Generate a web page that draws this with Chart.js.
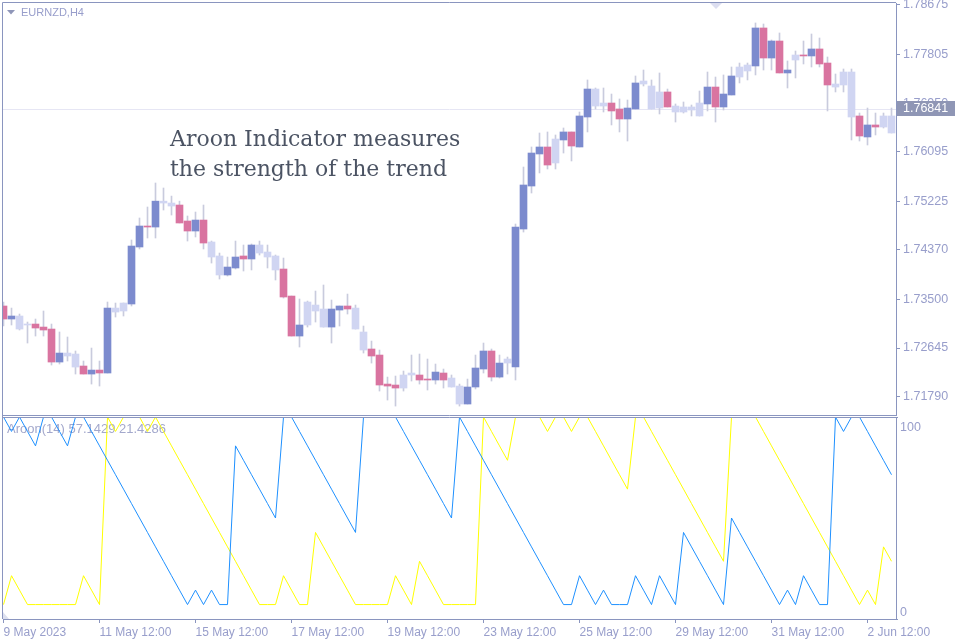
<!DOCTYPE html>
<html>
<head>
<meta charset="utf-8">
<script src="https://cdn.jsdelivr.net/npm/chart.js@4.4.0/dist/chart.umd.min.js"></script>
<style>
  html, body { margin: 0; padding: 0; background: #fff; overflow: hidden; }
  #wrap { position: relative; width: 960px; height: 640px; }
  canvas { position: absolute; left: 0; }
  #chartPrice { top: 0; }
  #chartAroon { top: 416px; }
</style>
</head>
<body>
<div id="wrap">
  <canvas id="chartPrice" width="960" height="416"></canvas>
  <canvas id="chartAroon" width="960" height="224"></canvas>
</div>
<script>
// EURNZD H4, one value per bar, bar 0 = 9 May 2023 12:00
var opens = [
  1.73384,1.73155,1.73208,1.73067,1.73067,1.73014,1.72979,1.72399,1.72557,1.72540,
  1.72329,1.72188,1.72258,1.72206,1.73348,1.73296,1.73419,1.74421,1.74790,1.74772,
  1.75227,1.75194,1.75159,1.74878,1.74702,1.74895,1.74509,1.74263,1.73929,1.74052,
  1.74263,1.74210,1.74456,1.74333,1.74263,1.74034,1.73559,1.72856,1.73050,1.73401,
  1.73331,1.73014,1.73313,1.73384,1.73348,1.72927,1.72628,1.72522,1.72012,1.71995,
  1.71942,1.72171,1.72171,1.72100,1.72083,1.72206,1.72118,1.71977,1.71661,1.71960,
  1.72276,1.72593,1.72135,1.72381,1.72311,1.74737,1.75493,1.76056,1.76179,1.75898,
  1.76302,1.76443,1.76179,1.76706,1.77198,1.76899,1.76952,1.76847,1.76671,1.76847,
  1.77339,1.77251,1.76864,1.77146,1.76899,1.76794,1.76882,1.76724,1.76935,1.77233,
  1.76882,1.77093,1.77409,1.77515,1.77603,1.78271,1.77743,1.78042,1.77480,1.77708,
  1.77796,1.77779,1.77902,1.77655,1.77286,1.77269,1.77497,1.76724,1.76355,1.76566,
  1.76530,1.76724
];
var highs = [
  1.73454,1.73348,1.73243,1.73102,1.73155,1.73296,1.73067,1.72927,1.72839,1.72593,
  1.72417,1.72645,1.72417,1.73454,1.73436,1.73436,1.74544,1.74931,1.75124,1.75546,
  1.75458,1.75316,1.75227,1.74966,1.75036,1.75159,1.74526,1.74315,1.74245,1.74526,
  1.74456,1.74474,1.74526,1.74456,1.74280,1.74227,1.73559,1.73507,1.73471,1.73647,
  1.73753,1.73489,1.73384,1.73594,1.73401,1.73032,1.72768,1.72610,1.72135,1.72153,
  1.72241,1.72522,1.72540,1.72452,1.72364,1.72276,1.72171,1.72012,1.72100,1.72522,
  1.72733,1.72628,1.72522,1.72487,1.74825,1.75827,1.76179,1.76425,1.76443,1.76390,
  1.76513,1.76443,1.76794,1.77357,1.77216,1.77216,1.77110,1.77023,1.77005,1.77427,
  1.77532,1.77357,1.77480,1.77198,1.76935,1.76970,1.76917,1.77163,1.77497,1.77409,
  1.77445,1.77585,1.77655,1.77655,1.78359,1.78341,1.78060,1.78183,1.77691,1.77866,
  1.78042,1.78165,1.78095,1.77761,1.77462,1.77550,1.77550,1.76776,1.76864,1.76776,
  1.76776,1.76864
];
var lows = [
  1.73032,1.73050,1.72962,1.72733,1.72856,1.72856,1.72346,1.72364,1.72417,1.72188,
  1.72188,1.72012,1.71977,1.72206,1.73190,1.73208,1.73384,1.74386,1.74579,1.74579,
  1.75071,1.74983,1.74843,1.74526,1.74597,1.74386,1.74139,1.73858,1.73911,1.74034,
  1.73999,1.74017,1.74280,1.74052,1.73841,1.73524,1.72856,1.72663,1.73014,1.73102,
  1.73014,1.72733,1.73032,1.73243,1.72979,1.72557,1.72381,1.71889,1.71731,1.71625,
  1.71889,1.72065,1.72012,1.71907,1.72012,1.71942,1.71960,1.71625,1.71661,1.71925,
  1.72206,1.72065,1.72118,1.72188,1.72083,1.74684,1.75370,1.75722,1.75792,1.75792,
  1.76073,1.75933,1.76179,1.76443,1.76847,1.76794,1.76566,1.76443,1.76284,1.76847,
  1.77251,1.76847,1.76759,1.76882,1.76618,1.76776,1.76724,1.76724,1.76812,1.76618,
  1.76829,1.77093,1.77304,1.77357,1.77445,1.77532,1.77532,1.77480,1.77216,1.77392,
  1.77638,1.77585,1.77585,1.76812,1.77146,1.77146,1.76302,1.76284,1.76214,1.76390,
  1.76513,1.76425
];
var closes = [
  1.73155,1.73208,1.72979,1.73050,1.72997,1.72962,1.72399,1.72557,1.72505,1.72311,
  1.72188,1.72258,1.72206,1.73348,1.73278,1.73436,1.74438,1.74790,1.74772,1.75227,
  1.75194,1.75141,1.74843,1.74702,1.74895,1.74491,1.74245,1.73929,1.74069,1.74245,
  1.74210,1.74456,1.74315,1.74245,1.74017,1.73542,1.72856,1.73050,1.73454,1.73296,
  1.73014,1.73331,1.73384,1.73331,1.72979,1.72610,1.72505,1.71995,1.71977,1.71942,
  1.72171,1.72206,1.72083,1.72083,1.72223,1.72083,1.71960,1.71661,1.71960,1.72294,
  1.72593,1.72135,1.72381,1.72452,1.74772,1.75511,1.76073,1.76179,1.75862,1.76319,
  1.76443,1.76196,1.76724,1.77198,1.76899,1.76952,1.76812,1.76671,1.76864,1.77304,
  1.77286,1.76847,1.77146,1.76882,1.76794,1.76882,1.76829,1.76952,1.77233,1.76882,
  1.77110,1.77427,1.77585,1.77620,1.78271,1.77743,1.78042,1.77480,1.77532,1.77796,
  1.77779,1.77902,1.77638,1.77269,1.77233,1.77497,1.76706,1.76372,1.76566,1.76530,
  1.76724,1.76425
];
// candle colour as seen on the chart: B blue, P pink, L light
var tones = ('PBLLPPPBLL' + 'PBPBLLBBPB' + 'LLPPBPLLBB' + 'PBLLLPPBLL' +
             'LBBPLLPPPP' + 'LLPPBPLLBB' + 'BPBLBBBBPL' + 'BPBBLLPPBB' +
             'LLLPLLLLBP' + 'BBLLBPBPBL' + 'PBPPLLLPBP' + 'LL').split('');

// Aroon(14)
var aroonUp = [
  7.14,21.43,14.29,7.14,7.14,7.14,7.14,7.14,7.14,7.14,
  21.43,14.29,7.14,100,92.86,100,100,100,92.86,100,
  92.86,85.71,78.57,71.43,64.29,57.14,50,42.86,35.71,28.57,
  21.43,14.29,7.14,7.14,7.14,21.43,14.29,7.14,7.14,42.86,
  35.71,28.57,21.43,14.29,7.14,7.14,7.14,7.14,7.14,21.43,
  14.29,7.14,28.57,21.43,14.29,7.14,7.14,7.14,7.14,7.14,
  100,92.86,85.71,78.57,100,100,100,100,92.86,100,
  100,92.86,100,100,92.86,85.71,78.57,71.43,64.29,100,
  100,92.86,85.71,78.57,71.43,64.29,57.14,50,42.86,35.71,
  28.57,100,100,100,100,92.86,85.71,78.57,71.43,64.29,
  57.14,50,42.86,35.71,28.57,21.43,14.29,7.14,14.29,7.14,
  35.71,28.57
];
var aroonDown = [
  100,92.86,100,92.86,85.71,100,100,92.86,85.71,100,
  100,92.86,85.71,78.57,71.43,64.29,57.14,50,42.86,35.71,
  28.57,21.43,14.29,7.14,14.29,7.14,14.29,7.14,7.14,85.71,
  78.57,71.43,64.29,57.14,50,100,100,92.86,85.71,78.57,
  71.43,64.29,57.14,50,42.86,100,100,100,100,100,
  92.86,85.71,78.57,71.43,64.29,57.14,50,100,92.86,85.71,
  78.57,71.43,64.29,57.14,50,42.86,35.71,28.57,21.43,14.29,
  7.14,7.14,21.43,14.29,7.14,14.29,7.14,7.14,7.14,21.43,
  14.29,7.14,21.43,14.29,7.14,42.86,35.71,28.57,21.43,14.29,
  7.14,50,42.86,35.71,28.57,21.43,14.29,7.14,14.29,7.14,
  21.43,14.29,7.14,7.14,100,92.86,100,100,92.86,85.71,
  78.57,71.43
];

var priceTicks = [1.71790, 1.72645, 1.73500, 1.74370, 1.75225, 1.76095, 1.76950, 1.77805, 1.78675];
var aroonTicks = [0, 100];
var timeLabels = ['9 May 2023', '11 May 12:00', '15 May 12:00', '17 May 12:00', '19 May 12:00',
                  '23 May 12:00', '25 May 12:00', '29 May 12:00', '31 May 12:00', '2 Jun 12:00'];
var timeLabelBars = [0, 12, 24, 36, 48, 60, 72, 84, 96, 108];
var currentPrice = 1.76841;
var symbolTitle = 'EURNZD,H4';
var aroonTitle = 'Aroon(14) 57.1429 21.4286';
var noteLines = ['Aroon Indicator measures', 'the strength of the trend'];

// look
var frameColor = '#8a95bf';
var labelColor = '#989ecb';
var wickColor = '#c9cbdd';
var toneColor = { B: '#7c8bce', P: '#d974a0', L: '#d0d5f2' };
var axisFont = { family: '"Liberation Sans", Arial, sans-serif', size: 12.5 };

// 8 px per bar, bar centres on whole pixels
var xMin = -0.0625, xMax = 111.5625;

var bodies = [], wicks = [], upPts = [], downPts = [];
for (var i = 0; i < opens.length; i++) {
  bodies.push({ x: i, y: [opens[i], closes[i]] });
  wicks.push({ x: i, y: [lows[i], highs[i]] });
  upPts.push({ x: i, y: aroonUp[i] });
  downPts.push({ x: i, y: aroonDown[i] });
}

function noPad(s) { s.paddingTop = 0; s.paddingBottom = 0; s.paddingLeft = 0; s.paddingRight = 0; }

var pricePlugin = {
  id: 'pricePanel',
  beforeDatasetsDraw: function (chart) {
    var ctx = chart.ctx, a = chart.chartArea;
    var y = Math.round(chart.scales.y.getPixelForValue(currentPrice)) + 0.5;
    ctx.save();
    ctx.strokeStyle = '#e6e6f4';
    ctx.lineWidth = 1;
    ctx.beginPath();
    ctx.moveTo(a.left, y); ctx.lineTo(a.right, y);
    ctx.stroke();
    ctx.restore();
  },
  afterDraw: function (chart) {
    var ctx = chart.ctx, a = chart.chartArea;
    ctx.save();
    // frame
    ctx.strokeStyle = frameColor;
    ctx.lineWidth = 1;
    ctx.beginPath();
    ctx.moveTo(2.5, 416); ctx.lineTo(2.5, 2.5); ctx.lineTo(a.right, 2.5);
    ctx.moveTo(2.5, 415.5); ctx.lineTo(a.right, 415.5);
    ctx.stroke();
    // symbol
    ctx.fillStyle = '#8f96b8';
    ctx.beginPath();
    ctx.moveTo(7, 10); ctx.lineTo(15, 10); ctx.lineTo(11, 14.5); ctx.closePath();
    ctx.fill();
    ctx.fillStyle = labelColor;
    ctx.font = '11px "Liberation Sans", Arial, sans-serif';
    ctx.textBaseline = 'middle';
    ctx.fillText(symbolTitle, 21, 13);
    // shift marker
    ctx.fillStyle = '#dcdef0';
    ctx.beginPath();
    ctx.moveTo(710, 3); ctx.lineTo(722, 3); ctx.lineTo(716, 9); ctx.closePath();
    ctx.fill();
    // current price box
    var y = Math.round(chart.scales.y.getPixelForValue(currentPrice));
    ctx.fillStyle = '#8f96b5';
    ctx.fillRect(a.right + 1, y - 8, 58, 15);
    ctx.fillStyle = '#ffffff';
    ctx.font = '12.5px "Liberation Sans", Arial, sans-serif';
    ctx.fillText(currentPrice.toFixed(5), a.right + 7, y);
    // note
    ctx.fillStyle = '#4b5363';
    ctx.font = '22px "DejaVu Serif", serif';
    ctx.textBaseline = 'alphabetic';
    ctx.fillText(noteLines[0], 170, 146);
    ctx.fillText(noteLines[1], 170, 176);
    ctx.restore();
  }
};

new Chart(document.getElementById('chartPrice'), {
  type: 'bar',
  data: {
    datasets: [{
      data: bodies,
      backgroundColor: function (c) { return toneColor[tones[c.dataIndex]]; },
      borderWidth: 0,
      barThickness: 7,
      minBarLength: 1,
      grouped: false,
      order: 1
    }, {
      data: wicks,
      backgroundColor: wickColor,
      borderWidth: 0,
      barThickness: 1,
      grouped: false,
      order: 2
    }]
  },
  options: {
    responsive: false,
    animation: false,
    devicePixelRatio: 1,
    layout: { padding: { left: 3, top: 3, right: 0, bottom: 1 } },
    plugins: { legend: { display: false }, tooltip: { enabled: false } },
    scales: {
      x: { type: 'linear', display: false, offset: false, bounds: 'data', min: xMin, max: xMax },
      y: {
        position: 'right',
        min: 1.71468,
        max: 1.78710,
        afterBuildTicks: function (s) { s.ticks = priceTicks.map(function (v) { return { value: v }; }); },
        afterFit: function (s) { s.width = 64; noPad(s); },
        grid: { drawOnChartArea: false, tickLength: 4, color: frameColor },
        border: { color: frameColor },
        ticks: {
          padding: 3,
          color: labelColor,
          font: axisFont,
          callback: function (v) { return v.toFixed(5); }
        }
      }
    }
  },
  plugins: [pricePlugin]
});

var aroonPlugin = {
  id: 'aroonPanel',
  beforeDatasetsDraw: function (chart) {
    var ctx = chart.ctx;
    ctx.save();
    ctx.fillStyle = '#a3a8cc';
    ctx.font = '13px "Liberation Sans", Arial, sans-serif';
    ctx.textBaseline = 'middle';
    ctx.fillText(aroonTitle, 7, 13);
    ctx.restore();
  },
  afterDraw: function (chart) {
    var ctx = chart.ctx, a = chart.chartArea;
    ctx.save();
    ctx.strokeStyle = frameColor;
    ctx.lineWidth = 1;
    ctx.beginPath();
    ctx.moveTo(2.5, 1.5); ctx.lineTo(a.right, 1.5);
    ctx.moveTo(2.5, 0); ctx.lineTo(2.5, a.bottom);
    ctx.stroke();
    ctx.fillStyle = '#dde0ef';
    ctx.beginPath();
    ctx.moveTo(3, 196); ctx.lineTo(3, a.bottom); ctx.lineTo(9, a.bottom); ctx.closePath();
    ctx.fill();
    ctx.restore();
  }
};

new Chart(document.getElementById('chartAroon'), {
  type: 'line',
  data: {
    datasets: [{
      label: 'Aroon Down',
      data: downPts,
      borderColor: '#1e90ff',
      borderWidth: 1,
      pointRadius: 0,
      tension: 0,
      order: 1
    }, {
      label: 'Aroon Up',
      data: upPts,
      borderColor: '#ffff00',
      borderWidth: 1,
      pointRadius: 0,
      tension: 0,
      order: 2
    }]
  },
  options: {
    responsive: false,
    animation: false,
    devicePixelRatio: 1,
    layout: { padding: { left: 3, top: 1, right: 0, bottom: 0 } },
    plugins: { legend: { display: false }, tooltip: { enabled: false } },
    scales: {
      x: {
        type: 'linear',
        bounds: 'data',
        offset: false,
        min: xMin,
        max: xMax,
        afterBuildTicks: function (s) { s.ticks = timeLabelBars.map(function (v) { return { value: v }; }); },
        afterFit: function (s) { s.height = 21; noPad(s); },
        grid: { drawOnChartArea: false, tickLength: 4, color: frameColor },
        border: { color: frameColor },
        ticks: {
          align: 'start',
          autoSkip: false,
          maxRotation: 0,
          padding: 2,
          color: labelColor,
          font: { family: axisFont.family, size: 12 },
          callback: function (v) { return timeLabels[timeLabelBars.indexOf(v)]; }
        }
      },
      y: {
        position: 'right',
        min: 0,
        max: 100,
        afterBuildTicks: function (s) { s.ticks = aroonTicks.map(function (v) { return { value: v }; }); },
        afterFit: function (s) { s.width = 64; noPad(s); },
        grid: { drawOnChartArea: false, tickLength: 2, color: frameColor },
        border: { color: frameColor },
        ticks: {
          padding: 2,
          labelOffset: 2,
          color: labelColor,
          font: { family: axisFont.family, size: 12.5, lineHeight: 1.3 },
          // MT4 puts the top label under its level and the bottom label above it
          callback: function (v) { return v === 100 ? ['', '100'] : ['0', '']; }
        }
      }
    }
  },
  plugins: [aroonPlugin]
});
</script>
</body>
</html>
